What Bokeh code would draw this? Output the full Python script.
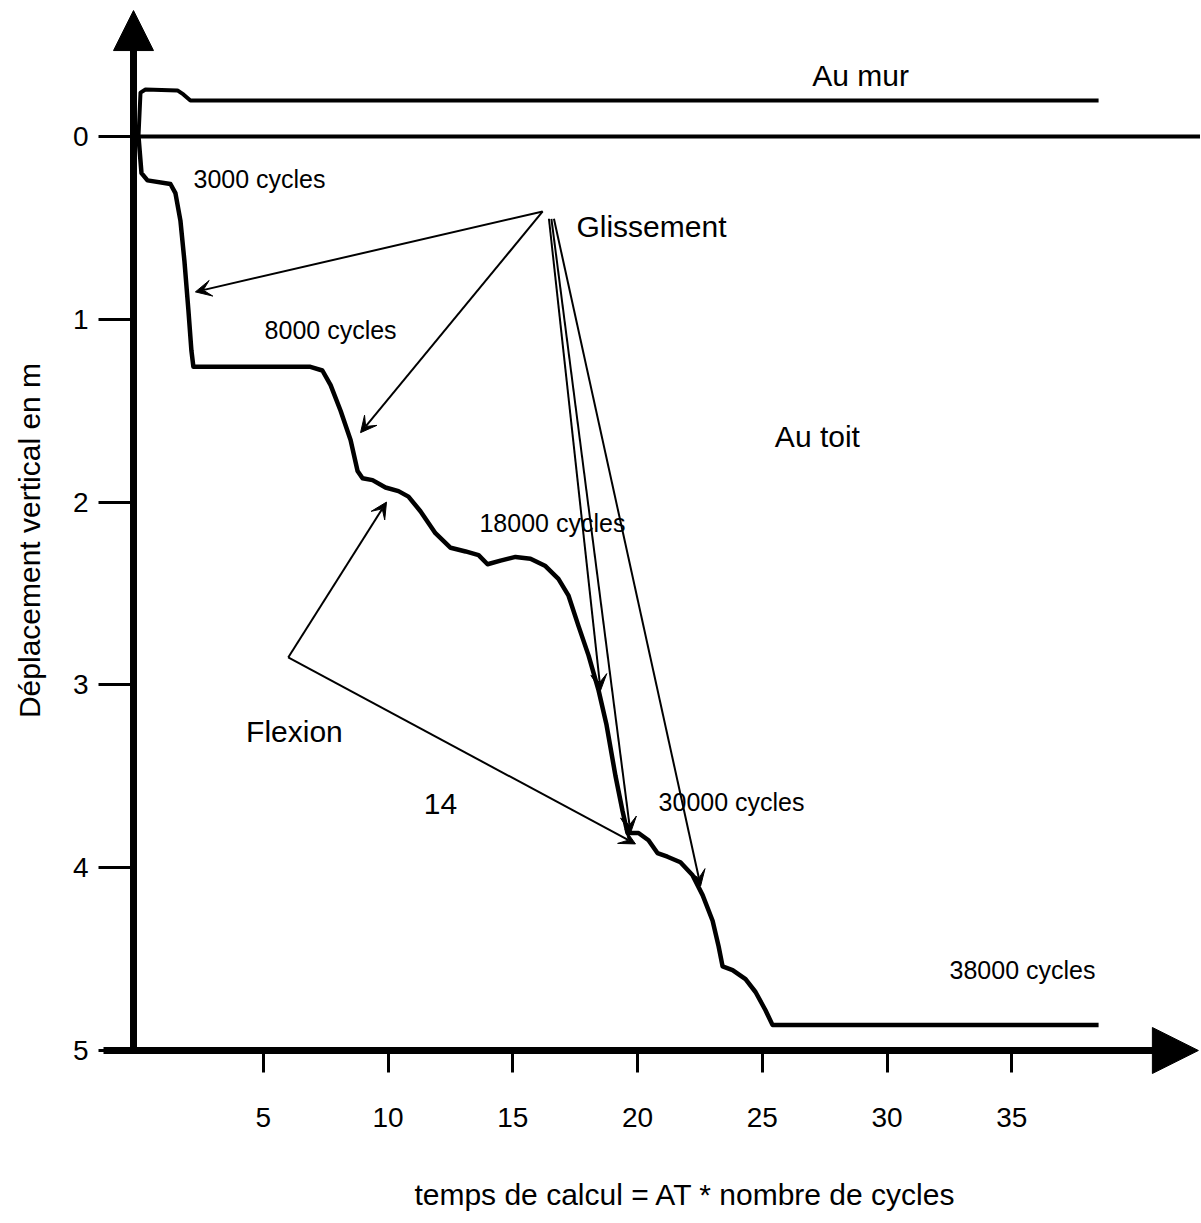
from bokeh.plotting import figure
from bokeh.models import Range1d, FixedTicker, Arrow, VeeHead, NormalHead, ColumnDataSource, LinearAxis
from bokeh.embed import file_html
from bokeh.resources import INLINE
from bokeh.core.properties import value

# ---- data (time units, vertical displacement in m; positive = downward) ----
toit_t = [0.0, 0.12, 0.36, 1.28, 1.48, 1.68, 1.84, 2.00, 2.12, 2.20, 6.89, 7.37, 7.70, 8.10,
          8.50, 8.78, 8.98, 9.38, 9.90, 10.42, 10.82, 11.30, 11.90, 12.51, 13.11, 13.63,
          13.99, 14.51, 15.11, 15.71, 16.31, 16.83, 17.23, 17.64, 18.04, 18.44, 18.76,
          19.12, 19.40, 19.60, 20.04, 20.44, 20.80, 21.20, 21.72, 22.20, 22.61, 23.01,
          23.25, 23.41, 23.81, 24.33, 24.73, 25.13, 25.41, 38.48]
toit_d = [0.0, 0.20, 0.24, 0.26, 0.31, 0.46, 0.68, 0.95, 1.17, 1.26, 1.26, 1.28, 1.36, 1.50,
          1.66, 1.83, 1.87, 1.88, 1.92, 1.94, 1.97, 2.05, 2.17, 2.25, 2.27, 2.29,
          2.34, 2.32, 2.30, 2.31, 2.35, 2.42, 2.51, 2.68, 2.84, 3.03, 3.22,
          3.50, 3.69, 3.81, 3.81, 3.85, 3.92, 3.94, 3.97, 4.04, 4.15, 4.29,
          4.43, 4.54, 4.56, 4.61, 4.68, 4.78, 4.86, 4.86]

mur_t = [0.0, 0.08, 0.28, 1.56, 1.80, 2.08, 38.48]
mur_d = [0.0, -0.24, -0.257, -0.252, -0.23, -0.197, -0.197]

x_ticks = [5, 10, 15, 20, 25, 30, 35]
y_ticks = [0, 1, 2, 3, 4, 5]

# annotation arrows (start -> end, data units)
arr_x0 = [16.2, 16.2, 16.45, 16.55, 16.65, 6.0, 6.0]
arr_y0 = [0.41, 0.41, 0.45, 0.45, 0.45, 2.85, 2.85]
arr_x1 = [2.28, 8.90, 18.52, 19.72, 22.53, 9.94, 19.92]
arr_y1 = [0.85, 1.62, 3.03, 3.81, 4.10, 2.00, 3.87]

big_text = ["Au mur", "Glissement", "Au toit", "Flexion", "14"]
big_x = [28.94, 20.56, 27.21, 6.25, 12.10]
big_y = [-0.334, 0.49, 1.641, 3.255, 3.649]

cyc_text = ["3000 cycles", "8000 cycles", "18000 cycles", "30000 cycles", "38000 cycles"]
cyc_x = [4.85, 7.70, 16.59, 23.77, 35.43]
cyc_y = [0.23, 1.056, 2.117, 3.643, 4.557]

FONT = "Liberation Sans"

x_lo, x_hi = -5.531, 42.565
y_top, y_bot = -0.744, 5.941
yaxis_at = -0.2      # time position of the vertical axis
xaxis_at = 5.0       # displacement position of the horizontal axis
y_tip = -0.689
x_tip = 42.48

p = figure(width=1200, height=1222, x_range=Range1d(x_lo, x_hi), y_range=Range1d(y_bot, y_top),
           output_backend="svg", toolbar_location=None,
           x_axis_location=None, y_axis_location=None,
           min_border=0, min_border_left=0, min_border_right=0, min_border_top=0, min_border_bottom=0)
p.outline_line_color = None
p.grid.visible = False
p.background_fill_color = "white"
p.border_fill_color = "white"


def style(ax):
    ax.axis_line_width = 7
    ax.axis_line_color = "black"
    ax.major_tick_line_width = 3
    ax.major_tick_line_color = "black"
    ax.major_tick_in = 0
    ax.minor_tick_out = 0
    ax.minor_tick_in = 0
    ax.major_label_text_font = FONT
    ax.major_label_text_color = "black"
    ax.major_label_text_font_size = "28px"
    ax.axis_label_text_font = FONT
    ax.axis_label_text_font_style = "normal"
    ax.axis_label_text_color = "black"
    ax.axis_label_text_font_size = "30px"


xaxis = LinearAxis(fixed_location=xaxis_at, bounds=(-1.4, 41.6),
                   ticker=FixedTicker(ticks=x_ticks, minor_ticks=[]))
style(xaxis)
xaxis.major_tick_out = 22
xaxis.major_label_standoff = 36
p.add_layout(xaxis, "below")

# title of the time axis, carried by a bare axis centred under the curve span
xlab = LinearAxis(fixed_location=xaxis_at, bounds=(10.0, 33.84),
                  ticker=FixedTicker(ticks=[], minor_ticks=[]))
style(xlab)
xlab.axis_line_alpha = 0
xlab.major_tick_out = 0
xlab.axis_label = "temps de calcul = AT * nombre de cycles"
xlab.axis_label_standoff = 127
p.add_layout(xlab, "below")

yaxis = LinearAxis(fixed_location=yaxis_at, bounds=(-0.58, 5.0),
                   ticker=FixedTicker(ticks=y_ticks, minor_ticks=[]))
style(yaxis)
yaxis.major_tick_out = 35
yaxis.major_label_standoff = 10
yaxis.axis_label = "Déplacement vertical en m"
yaxis.axis_label_standoff = 24
p.add_layout(yaxis, "left")

# zero line
p.ray(x=[yaxis_at], y=[0.0], length=0, angle=0, line_color="black", line_width=4)

# curves
p.line(mur_t, mur_d, line_color="black", line_width=4, line_join="round")
p.line(toit_t, toit_d, line_color="black", line_width=4.5, line_join="round")

# axis arrow heads
p.add_layout(Arrow(end=NormalHead(size=40, fill_color="black", line_color="black"),
                   x_start=yaxis_at, y_start=0.0, x_end=yaxis_at, y_end=y_tip,
                   line_alpha=0))
p.add_layout(Arrow(end=NormalHead(size=46, fill_color="black", line_color="black"),
                   x_start=38.0, y_start=xaxis_at, x_end=x_tip, y_end=xaxis_at,
                   line_alpha=0))

# annotation arrows
asrc = ColumnDataSource(dict(x0=arr_x0, y0=arr_y0, x1=arr_x1, y1=arr_y1))
p.add_layout(Arrow(end=VeeHead(size=16, fill_color="black", line_color="black", line_width=1),
                   x_start="x0", y_start="y0", x_end="x1", y_end="y1", source=asrc,
                   line_color="black", line_width=2))

# texts
p.text(x=big_x, y=big_y, text=big_text, text_font=value(FONT), text_font_size="30px",
       text_align="center", text_baseline="middle", text_color="black")
p.text(x=cyc_x, y=cyc_y, text=cyc_text, text_font=value(FONT), text_font_size="25px",
       text_align="center", text_baseline="middle", text_color="black")

open("out.html", "w").write(file_html(p, INLINE))
